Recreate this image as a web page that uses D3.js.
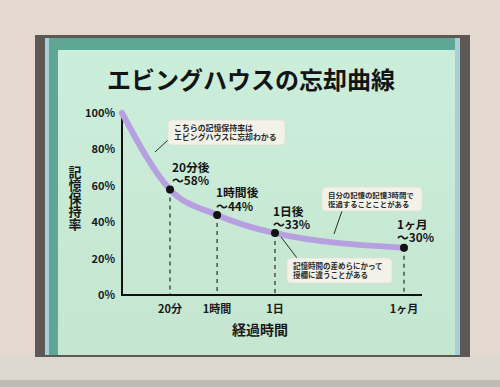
<!DOCTYPE html>
<html>
<head>
<meta charset="utf-8">
<script src="https://cdn.jsdelivr.net/npm/d3@7"></script>
<style>
  body { margin: 0; background: #e4d9ce; }
  svg { display: block; font-family: "Noto Sans CJK JP", "Noto Sans", sans-serif; }
</style>
</head>
<body>
<div id="chart"></div>
<script>
// data
const timeLabels = ["開始", "20分", "1時間", "1日", "1ヶ月"];
const elapsedHours = [0, 1 / 3, 1, 24, 720];
const retention = [100, 58, 44, 34, 26];
const pointLabels = [null, ["20分後", "～58%"], ["1時間後", "～44%"], ["1日後", "～33%"], ["1ヶ月", "～30%"]];
const yTicks = [0, 20, 40, 60, 80, 100];
const notes = [
    ["こちらの記憶保持率は", "エビングハウスに忘却わかる"],
    ["自分の記憶の記憶3時間で", "復過することことがある"],
    ["記憶時間の差めらにかって", "授欄に違うことがある"]
];

const width = 500, height = 387;
const svg = d3.select("#chart").append("svg")
    .attr("width", width)
    .attr("height", height);

// wall + window frame
svg.append("rect").attr("width", width).attr("height", height).attr("fill", "#e4d9ce");
svg.append("rect").attr("x", 0).attr("y", 357).attr("width", width).attr("height", 30).attr("fill", "#dcd7cf");
svg.append("rect").attr("x", 0).attr("y", 380).attr("width", width).attr("height", 7).attr("fill", "#bdb9b3");
svg.append("rect").attr("x", 35).attr("y", 35).attr("width", 435).attr("height", 322).attr("fill", "#5d5853");
svg.append("rect").attr("x", 45).attr("y", 38).attr("width", 415).attr("height", 317).attr("fill", "#a8cfd8");
svg.append("rect").attr("x", 49).attr("y", 38).attr("width", 406).attr("height", 317).attr("fill", "#5fa795");

const grad = svg.append("defs").append("linearGradient")
    .attr("id", "panel").attr("x1", 0).attr("y1", 0).attr("x2", 0).attr("y2", 1);
grad.append("stop").attr("offset", "0%").attr("stop-color", "#cbeedb");
grad.append("stop").attr("offset", "100%").attr("stop-color", "#c5e6d0");
svg.append("rect").attr("x", 58).attr("y", 50).attr("width", 397).attr("height", 305).attr("fill", "url(#panel)");

// title
svg.append("text")
    .attr("x", 251).attr("y", 89)
    .attr("text-anchor", "middle")
    .attr("font-size", 24).attr("font-weight", 700)
    .attr("fill", "#141414")
    .text("エビングハウスの忘却曲線");

// scales
const plotLeft = 122, plotRight = 422, plotTop = 113, plotBottom = 295;
const plotW = plotRight - plotLeft;
const x = d3.scaleLinear()
    .domain(elapsedHours)
    .range([0, 0.16, 0.317, 0.51, 0.94].map(f => plotLeft + f * plotW));
const y = d3.scaleLinear().domain([0, 100]).range([plotBottom, plotTop]);

const pts = elapsedHours.map((h, i) => ({ h, v: retention[i], i }));

// dashed drop lines
svg.selectAll(".drop").data(pts.slice(1)).enter().append("line")
    .attr("x1", d => x(d.h)).attr("x2", d => x(d.h))
    .attr("y1", d => y(d.v)).attr("y2", plotBottom)
    .attr("stroke", "#2a2a2a").attr("stroke-width", 1.2)
    .attr("stroke-dasharray", "4,4");

// axes
svg.append("line").attr("x1", plotLeft).attr("x2", plotLeft).attr("y1", plotTop).attr("y2", plotBottom + 1)
    .attr("stroke", "#111").attr("stroke-width", 2);
svg.append("line").attr("x1", plotLeft - 1).attr("x2", plotRight).attr("y1", plotBottom).attr("y2", plotBottom)
    .attr("stroke", "#111").attr("stroke-width", 2);

svg.selectAll(".ytick").data(yTicks).enter().append("text")
    .attr("x", 115).attr("y", d => y(d) + 4)
    .attr("text-anchor", "end")
    .attr("font-size", 11).attr("font-weight", 700)
    .attr("fill", "#1a1a1a")
    .text(d => d + "%");

svg.selectAll(".xtick").data(pts.slice(1)).enter().append("text")
    .attr("x", d => x(d.h)).attr("y", 313)
    .attr("text-anchor", "middle")
    .attr("font-size", 11).attr("font-weight", 700)
    .attr("fill", "#1a1a1a")
    .text(d => timeLabels[d.i]);

// axis titles
svg.append("text")
    .attr("x", 260).attr("y", 335)
    .attr("text-anchor", "middle")
    .attr("font-size", 14).attr("font-weight", 700)
    .attr("fill", "#1a1a1a")
    .text("経過時間");

// vertical y title
svg.append("text")
    .attr("x", 75).attr("y", 166)
    .style("writing-mode", "vertical-rl")
    .style("glyph-orientation-vertical", "0")
    .attr("font-size", 13).attr("font-weight", 700)
    .attr("fill", "#1a1a1a")
    .text("記憶保持率");

// curve
const line = d3.line()
    .x(d => x(d.h))
    .y(d => y(d.v))
    .curve(d3.curveMonotoneX);
svg.append("path")
    .datum(pts)
    .attr("d", line)
    .attr("fill", "none")
    .attr("stroke", "#b7a0df")
    .attr("stroke-width", 6)
    .attr("stroke-linecap", "round");

svg.selectAll(".pt").data(pts.slice(1)).enter().append("circle")
    .attr("cx", d => x(d.h)).attr("cy", d => y(d.v))
    .attr("r", 4).attr("fill", "#111");

// point labels
const labelOffsets = [null, [2, -17.5], [-1, -17.5], [-2, -17.5], [-7, -19]];
pts.slice(1).forEach(d => {
    const lab = pointLabels[d.i];
    const off = labelOffsets[d.i];
    const t = svg.append("text")
        .attr("font-size", 11.8).attr("font-weight", 700)
        .attr("fill", "#141414");
    lab.forEach((s, k) => {
        t.append("tspan")
            .attr("x", x(d.h) + off[0])
            .attr("y", y(d.v) + off[1] + k * 13.5)
            .text(s);
    });
});

// callouts
const boxes = [
    { x: 168, y: 120, w: 117, h: 25, fs: 7.9, lx1: 155, ly1: 152, lx2: 168, ly2: 140 },
    { x: 322, y: 187, w: 100, h: 24, fs: 7.4, lx1: 334, ly1: 234, lx2: 342, ly2: 211 },
    { x: 287, y: 258, w: 105, h: 25, fs: 7.5, lx1: 281, ly1: 237, lx2: 297, ly2: 258 }
];
boxes.forEach((b, i) => {
    svg.append("line")
        .attr("x1", b.lx1).attr("y1", b.ly1).attr("x2", b.lx2).attr("y2", b.ly2)
        .attr("stroke", "#2a2a2a").attr("stroke-width", 1);
    svg.append("rect")
        .attr("x", b.x).attr("y", b.y).attr("width", b.w).attr("height", b.h)
        .attr("rx", 4)
        .attr("fill", "#f3f2e9")
        .attr("stroke", "#e2e0d6").attr("stroke-width", 0.8);
    const t = svg.append("text")
        .attr("font-size", b.fs).attr("font-weight", 700)
        .attr("fill", "#2a2a2a");
    notes[i].forEach((s, k) => {
        t.append("tspan")
            .attr("x", b.x + 6)
            .attr("y", b.y + 10.5 + k * 9.5)
            .text(s);
    });
});
</script>
</body>
</html>
